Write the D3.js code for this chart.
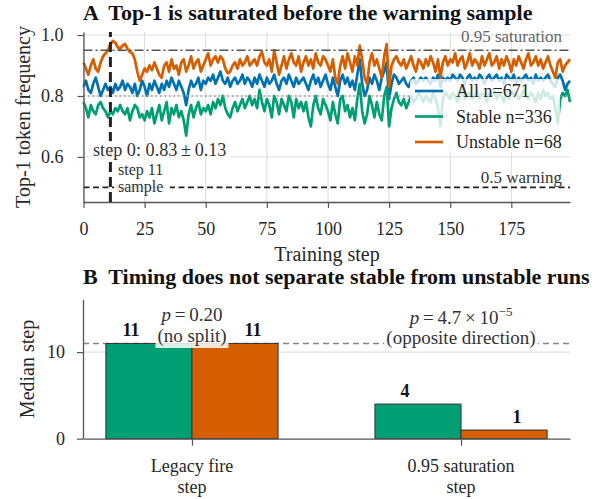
<!DOCTYPE html>
<html><head><meta charset="utf-8">
<script src="https://cdn.jsdelivr.net/npm/d3@7"></script>
<style>body{margin:0;background:#fff} svg{display:block} text{font-family:"Liberation Serif","Times New Roman",serif;}</style>
</head><body><svg id="c" width="599" height="499"></svg>
<script>
// ---------- data ----------
const allFreq = [
0.83,0.85,0.82,0.81,0.84,0.86,0.83,0.80,0.82,0.84,
0.82,0.83,0.81,0.84,0.82,0.83,0.85,0.82,0.84,0.83,
0.81,0.84,0.80,0.82,0.85,0.83,0.80,0.84,0.82,0.85,
0.83,0.81,0.84,0.82,0.85,0.83,0.86,0.84,0.82,0.85,
0.83,0.81,0.77,0.82,0.85,0.83,0.84,0.86,0.82,0.85,
0.84,0.86,0.85,0.87,0.84,0.86,0.88,0.85,0.84,0.86,
0.83,0.85,0.86,0.84,0.85,0.87,0.84,0.86,0.85,0.83,
0.86,0.84,0.87,0.85,0.83,0.86,0.84,0.85,0.87,0.84,
0.82,0.85,0.86,0.84,0.87,0.85,0.83,0.86,0.84,0.85,
0.86,0.84,0.82,0.85,0.87,0.84,0.86,0.83,0.85,0.87,
0.84,0.82,0.86,0.83,0.80,0.85,0.87,0.84,0.86,0.83,
0.85,0.82,0.87,0.92,0.84,0.80,0.82,0.86,0.84,0.87,
0.85,0.82,0.86,0.88,0.91,0.79,0.84,0.87,0.86,0.84,
0.85,0.86,0.84,0.83,0.85,0.86,0.84,0.85,0.86,0.85,
0.86,0.85,0.84,0.86,0.85,0.87,0.83,0.86,0.85,0.86,
0.85,0.87,0.86,0.85,0.87,0.86,0.84,0.86,0.87,0.85,
0.86,0.85,0.87,0.86,0.84,0.86,0.87,0.85,0.86,0.87,
0.85,0.86,0.84,0.87,0.86,0.85,0.87,0.84,0.86,0.85,
0.86,0.87,0.85,0.86,0.84,0.87,0.85,0.86,0.85,0.86,
0.87,0.85,0.84,0.83,0.86,0.87,0.85,0.82,0.84,0.85];
const stableFreq = [
0.78,0.76,0.73,0.77,0.75,0.74,0.77,0.78,0.76,0.75,
0.73,0.75,0.74,0.76,0.75,0.77,0.75,0.74,0.76,0.72,
0.75,0.77,0.76,0.73,0.74,0.72,0.75,0.73,0.76,0.71,
0.74,0.77,0.72,0.75,0.78,0.71,0.76,0.74,0.77,0.73,
0.75,0.72,0.67,0.74,0.77,0.73,0.76,0.78,0.74,0.76,
0.75,0.77,0.74,0.78,0.76,0.79,0.77,0.80,0.76,0.74,
0.73,0.76,0.78,0.75,0.77,0.79,0.76,0.78,0.80,0.77,
0.79,0.76,0.82,0.78,0.75,0.79,0.77,0.73,0.80,0.78,
0.74,0.79,0.77,0.75,0.80,0.78,0.73,0.79,0.76,0.78,
0.75,0.78,0.73,0.70,0.77,0.80,0.76,0.74,0.79,0.77,
0.75,0.72,0.78,0.74,0.71,0.79,0.80,0.75,0.77,0.73,
0.76,0.72,0.79,0.84,0.75,0.71,0.74,0.80,0.77,0.73,
0.78,0.74,0.72,0.80,0.83,0.70,0.76,0.79,0.81,0.78,
0.77,0.79,0.76,0.78,0.80,0.78,0.79,0.81,0.80,0.78,
0.80,0.79,0.78,0.81,0.79,0.76,0.70,0.79,0.81,0.80,
0.79,0.81,0.80,0.78,0.80,0.82,0.79,0.80,0.81,0.79,
0.80,0.82,0.79,0.81,0.80,0.78,0.81,0.80,0.82,0.79,
0.81,0.80,0.78,0.81,0.79,0.82,0.80,0.81,0.79,0.80,
0.82,0.80,0.79,0.81,0.80,0.78,0.81,0.79,0.82,0.80,
0.81,0.79,0.80,0.76,0.71,0.79,0.81,0.80,0.82,0.78];
const unstableFreq = [
0.91,0.89,0.87,0.90,0.92,0.89,0.88,0.91,0.93,0.94,
0.95,0.97,0.98,0.975,0.96,0.955,0.965,0.97,0.955,0.945,
0.94,0.92,0.88,0.85,0.87,0.89,0.88,0.90,0.885,0.91,
0.89,0.87,0.86,0.90,0.91,0.88,0.92,0.89,0.90,0.87,
0.91,0.92,0.88,0.90,0.93,0.89,0.91,0.92,0.88,0.90,
0.92,0.94,0.90,0.92,0.93,0.91,0.93,0.92,0.89,0.875,
0.88,0.90,0.91,0.89,0.92,0.90,0.91,0.93,0.90,0.91,
0.92,0.90,0.93,0.945,0.91,0.90,0.92,0.88,0.95,0.91,
0.87,0.90,0.93,0.89,0.92,0.94,0.91,0.90,0.93,0.88,
0.91,0.93,0.90,0.92,0.89,0.94,0.91,0.90,0.93,0.92,
0.90,0.88,0.92,0.86,0.84,0.90,0.93,0.89,0.94,0.91,
0.88,0.93,0.90,0.965,0.92,0.86,0.84,0.91,0.94,0.90,
0.92,0.89,0.86,0.93,0.97,0.83,0.90,0.92,0.93,0.91,
0.90,0.92,0.89,0.91,0.93,0.90,0.88,0.92,0.91,0.89,
0.92,0.90,0.93,0.91,0.88,0.92,0.86,0.91,0.93,0.90,
0.92,0.91,0.94,0.90,0.92,0.93,0.89,0.91,0.94,0.90,
0.92,0.91,0.89,0.93,0.90,0.92,0.94,0.90,0.91,0.93,
0.89,0.92,0.90,0.93,0.91,0.88,0.92,0.90,0.93,0.91,
0.89,0.92,0.94,0.90,0.91,0.93,0.90,0.92,0.89,0.91,
0.93,0.90,0.88,0.86,0.91,0.92,0.88,0.90,0.91,0.92];
const seriesNames = ["All n=671", "Stable n=336", "Unstable n=68"];
const seriesColors = ["#0072b2", "#009e73", "#d55e00"];
const bandHalf = [0.006, 0.010, 0.012];
const xTicksA = [0, 25, 50, 75, 100, 125, 150, 175];
const yTicksA = [0.6, 0.8, 1.0];
const saturationLevel = 0.95, warningLevel = 0.5, sampleStep = 11, dottedLevel = 0.8;
const step0Text = "step 0: 0.83\u2009\u00b1\u20090.13";

const barCategories = [["Legacy fire", "step"], ["0.95 saturation", "step"]];
const stableMedian = [11, 4];
const unstableMedian = [11, 1];
const pValues = [["0.20", null, "(no split)"], ["4.7\u2009\u00d7\u200910", "\u22125", "(opposite direction)"]];
const yTicksB = [0, 10];
const legacyRef = 11;

// ---------- drawing ----------
const svg = d3.select("#c");
const TXT = "#262626", SPINE = "#555", GRID = "#dcdcdc";
const series = [allFreq, stableFreq, unstableFreq];

// Panel A
const xA = d3.scaleLinear().domain([0, 199]).range([83.5, 570]);
const yA = d3.scaleLinear().domain([0.452, 1.01]).range([202, 32]);
const gA = svg.append("g");
gA.selectAll(".gx").data(xTicksA).join("line")
  .attr("x1", d => xA(d)).attr("x2", d => xA(d)).attr("y1", yA.range()[0]).attr("y2", yA.range()[1])
  .attr("stroke", GRID).attr("stroke-width", 1);
gA.selectAll(".gy").data(yTicksA).join("line")
  .attr("x1", xA.range()[0]).attr("x2", xA.range()[1]).attr("y1", d => yA(d)).attr("y2", d => yA(d))
  .attr("stroke", GRID).attr("stroke-width", 1);

series.forEach((s, i) => {
  const area = d3.area().x((d, j) => xA(j)).y0(d => yA(d - bandHalf[i])).y1(d => yA(d + bandHalf[i]));
  gA.append("path").attr("d", area(s)).attr("fill", seriesColors[i]).attr("opacity", 0.15);
});
series.forEach((s, i) => {
  const line = d3.line().x((d, j) => xA(j)).y(d => yA(d));
  gA.append("path").attr("d", line(s)).attr("fill", "none").attr("stroke", seriesColors[i])
    .attr("stroke-width", 2.7).attr("stroke-linejoin", "round");
});

gA.append("line").attr("x1", xA.range()[0]).attr("x2", xA.range()[1]).attr("y1", yA(dottedLevel)).attr("y2", yA(dottedLevel))
  .attr("stroke", "#999").attr("stroke-width", 1.5).attr("stroke-dasharray", "1.5,3");
gA.append("line").attr("x1", xA.range()[0]).attr("x2", xA.range()[1]).attr("y1", yA(saturationLevel)).attr("y2", yA(saturationLevel))
  .attr("stroke", "#555").attr("stroke-width", 1.6).attr("stroke-dasharray", "9,3,2,3");
gA.append("line").attr("x1", xA.range()[0]).attr("x2", xA.range()[1]).attr("y1", yA(warningLevel)).attr("y2", yA(warningLevel))
  .attr("stroke", "#222").attr("stroke-width", 1.6).attr("stroke-dasharray", "6,3.5");
gA.append("line").attr("x1", xA(sampleStep)).attr("x2", xA(sampleStep)).attr("y1", yA.range()[0]).attr("y2", yA.range()[1])
  .attr("stroke", "#222").attr("stroke-width", 3).attr("stroke-dasharray", "10,5");

gA.append("text").attr("x", 562).attr("y", 41.5).attr("text-anchor", "end").attr("font-size", 17).attr("fill", "#666").text("0.95 saturation");
gA.append("text").attr("x", 562).attr("y", 183).attr("text-anchor", "end").attr("font-size", 17).attr("fill", "#333").text("0.5 warning");
gA.append("rect").attr("x", 90).attr("y", 141).attr("width", 141).attr("height", 18).attr("fill", "#fff").attr("opacity", 0.85);
gA.append("text").attr("x", 93).attr("y", 156).attr("font-size", 18.2).attr("fill", "#333").text(step0Text);
gA.append("rect").attr("x", 114).attr("y", 160).attr("width", 56).attr("height", 37).attr("fill", "#fff").attr("opacity", 0.85);
gA.append("text").attr("x", 118).attr("y", 175).attr("font-size", 16).attr("fill", "#333").text("step 11");
gA.append("text").attr("x", 118).attr("y", 192).attr("font-size", 16).attr("fill", "#333").text("sample");

function styleAxis(g) {
  g.select(".domain").attr("stroke", SPINE).attr("stroke-width", 1.3);
  g.selectAll(".tick line").attr("stroke", SPINE).attr("stroke-width", 1.2);
  g.selectAll(".tick text").attr("fill", TXT).attr("font-size", 18);
}
gA.append("g").attr("transform", `translate(0,${yA.range()[0]})`)
  .call(d3.axisBottom(xA).tickValues(xTicksA).tickSize(6).tickPadding(14).tickSizeOuter(0)).call(styleAxis);
gA.append("g").attr("transform", `translate(${xA.range()[0]},0)`)
  .call(d3.axisLeft(yA).tickValues(yTicksA).tickFormat(d3.format(".1f")).tickSize(6).tickPadding(14).tickSizeOuter(0)).call(styleAxis);

gA.append("rect").attr("x", 410).attr("y", 79).attr("width", 150).attr("height", 73).attr("rx", 3)
  .attr("fill", "#fff").attr("opacity", 0.8);
seriesNames.forEach((n, i) => {
  const y = 91 + i * 25.5;
  gA.append("line").attr("x1", 415).attr("x2", 443).attr("y1", y).attr("y2", y)
    .attr("stroke", seriesColors[i]).attr("stroke-width", 2.7);
  gA.append("text").attr("x", 456).attr("y", y + 6).attr("font-size", 18).attr("fill", TXT).text(n);
});

svg.append("text").attr("x", 83).attr("y", 19.5).attr("font-size", 22).attr("font-weight", "bold").attr("fill", "#111")
  .style("white-space", "pre").text("A  Top-1 is saturated before the warning sample");
svg.append("text").attr("transform", "translate(22.5,117) rotate(-90)").attr("text-anchor", "middle")
  .attr("dominant-baseline", "central").attr("font-size", 20).attr("fill", TXT).text("Top-1 token frequency");
svg.append("text").attr("x", 327).attr("y", 261).attr("text-anchor", "middle").attr("font-size", 20).attr("fill", TXT).text("Training step");

// Panel B
const xB = d3.scaleLinear().domain([-0.405, 1.405]).range([83, 570]);
const yB = d3.scaleLinear().domain([0, 16.1]).range([438.7, 299.3]);
const gB = svg.append("g");
const barW = 0.32;
gB.selectAll(".gyb").data(yTicksB.filter(d => d > 0)).join("line")
  .attr("x1", xB.range()[0]).attr("x2", xB.range()[1]).attr("y1", d => yB(d)).attr("y2", d => yB(d))
  .attr("stroke", GRID).attr("stroke-width", 1);
gB.append("line").attr("x1", xB.range()[0]).attr("x2", xB.range()[1]).attr("y1", yB(legacyRef)).attr("y2", yB(legacyRef))
  .attr("stroke", "#888").attr("stroke-width", 1.5).attr("stroke-dasharray", "6,4");
barCategories.forEach((c, i) => {
  gB.append("rect").attr("x", xB(i - barW)).attr("width", xB(i) - xB(i - barW))
    .attr("y", yB(stableMedian[i])).attr("height", yB(0) - yB(stableMedian[i]))
    .attr("fill", seriesColors[1]).attr("stroke", "#333").attr("stroke-width", 1);
  gB.append("rect").attr("x", xB(i)).attr("width", xB(i + barW) - xB(i))
    .attr("y", yB(unstableMedian[i])).attr("height", yB(0) - yB(unstableMedian[i]))
    .attr("fill", seriesColors[2]).attr("stroke", "#333").attr("stroke-width", 1);
});
const labelShift = [0.067, 0.048];
barCategories.forEach((c, i) => {
  gB.append("text").attr("x", xB(i - barW / 2 - labelShift[i])).attr("y", yB(stableMedian[i]) - 7)
    .attr("text-anchor", "middle").attr("font-size", 18).attr("font-weight", "bold").attr("fill", "#111").text(stableMedian[i]);
  gB.append("text").attr("x", xB(i + barW / 2 + labelShift[i])).attr("y", yB(unstableMedian[i]) - 7)
    .attr("text-anchor", "middle").attr("font-size", 18).attr("font-weight", "bold").attr("fill", "#111").text(unstableMedian[i]);
});
const pBoxes = [{w: 73, b1: 321, b2: 342}, {w: 154, b1: 324, b2: 344}];
pValues.forEach((p, i) => {
  const cx = xB(i), bx = pBoxes[i];
  gB.append("rect").attr("x", cx - bx.w / 2).attr("y", 302).attr("width", bx.w).attr("height", 46)
    .attr("fill", "#fff").attr("opacity", 0.85);
  const t = gB.append("text").attr("x", cx).attr("y", bx.b1).attr("text-anchor", "middle").attr("font-size", 19).attr("fill", "#333");
  t.append("tspan").attr("font-style", "italic").text("p");
  t.append("tspan").text("\u2009=\u2009" + p[0]);
  if (p[1]) t.append("tspan").attr("dy", -8).attr("font-size", 13).text(p[1]);
  gB.append("text").attr("x", cx).attr("y", bx.b2).attr("text-anchor", "middle").attr("font-size", 19).attr("fill", "#333").text(p[2]);
});
gB.append("g").attr("transform", `translate(0,${yB(0)})`)
  .call(d3.axisBottom(xB).tickValues([0, 1]).tickFormat(() => "").tickSize(7).tickSizeOuter(0)).call(styleAxis);
barCategories.forEach((c, i) => {
  c.forEach((line, k) => {
    gB.append("text").attr("x", xB(i)).attr("y", 472 + k * 21).attr("text-anchor", "middle")
      .attr("font-size", 18).attr("fill", TXT).text(line);
  });
});
gB.append("g").attr("transform", `translate(${xB.range()[0]},0)`)
  .call(d3.axisLeft(yB).tickValues(yTicksB).tickSize(6).tickPadding(12).tickSizeOuter(0)).call(styleAxis);
svg.append("text").attr("x", 83).attr("y", 284).attr("font-size", 22).attr("font-weight", "bold").attr("fill", "#111")
  .style("white-space", "pre").text("B  Timing does not separate stable from unstable runs");
svg.append("text").attr("transform", "translate(26.5,369) rotate(-90)").attr("text-anchor", "middle")
  .attr("dominant-baseline", "central").attr("font-size", 20).attr("fill", TXT).text("Median step");
</script></body></html>
